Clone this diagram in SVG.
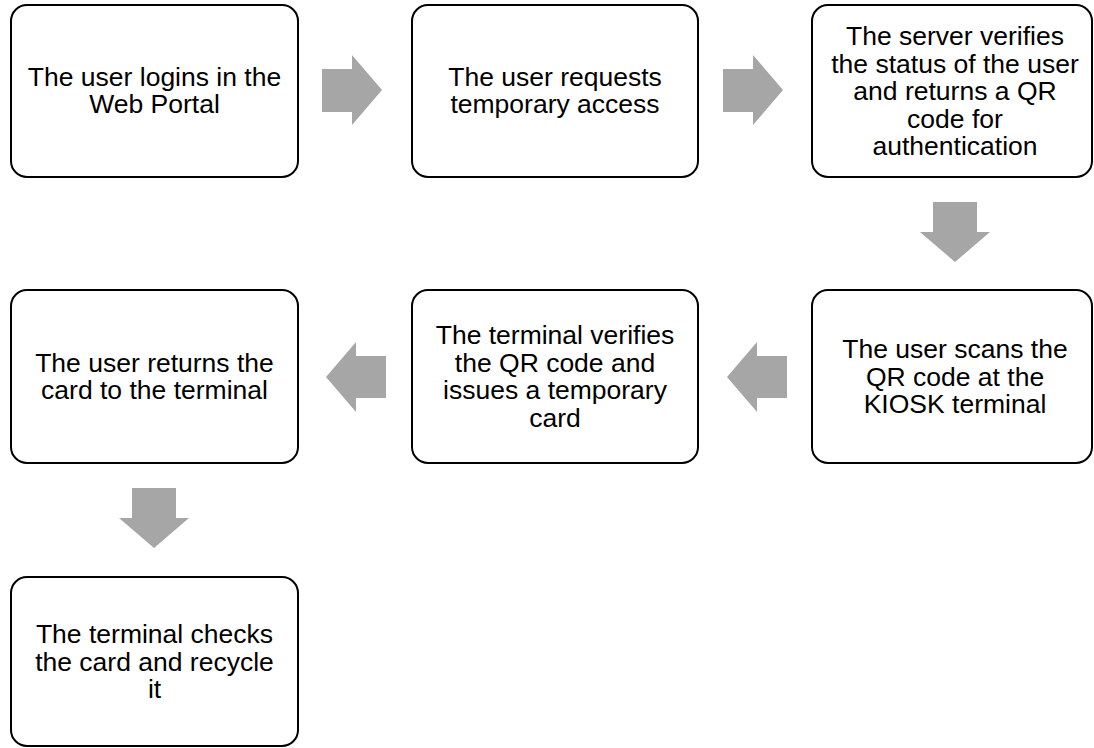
<svg xmlns="http://www.w3.org/2000/svg" width="1094" height="748" viewBox="0 0 1094 748">
<style>
.box{fill:#fff;stroke:#000;stroke-width:2}
.t{font-family:"Liberation Sans",Arial,sans-serif;font-size:26.5px;fill:#000;text-anchor:middle}
.arr{fill:#a6a6a6}
</style>
<rect width="1094" height="748" fill="#fff"/>
<g id="connectors">
<polygon class="arr" points="322,69 352,69 352,55 382,90 352,125 352,112 322,112"/>
<polygon class="arr" points="723,69 753,69 753,55 783,90 753,125 753,112 723,112"/>
<polygon class="arr" points="933,202 977,202 977,232 990,232 955,262 920,232 933,232"/>
<polygon class="arr" points="727,377 757,342 757,356 787,356 787,398 757,398 757,412"/>
<polygon class="arr" points="326,377 356,342 356,356 386,356 386,398 356,398 356,412"/>
<polygon class="arr" points="132,488 176,488 176,518 189,518 154,548 119,518 132,518"/>
</g>
<g id="n1">
<rect class="box" x="11" y="5" width="287" height="172" rx="16"/>
<text class="t"><tspan x="154.5" y="85.5">The user logins in the</tspan><tspan x="154.5" y="113">Web Portal</tspan></text>
</g>
<g id="n2">
<rect class="box" x="412" y="5" width="286" height="172" rx="16"/>
<text class="t"><tspan x="555" y="85.5">The user requests</tspan><tspan x="555" y="113">temporary access</tspan></text>
</g>
<g id="n3">
<rect class="box" x="812" y="5" width="280" height="172" rx="16"/>
<text class="t"><tspan x="955" y="45">The server verifies</tspan><tspan x="955" y="72.5">the status of the user</tspan><tspan x="955" y="100">and returns a QR</tspan><tspan x="955" y="127.5">code for</tspan><tspan x="955" y="155">authentication</tspan></text>
</g>
<g id="n4">
<rect class="box" x="812" y="290" width="280" height="173" rx="16"/>
<text class="t"><tspan x="955" y="358">The user scans the</tspan><tspan x="955" y="385.5">QR code at the</tspan><tspan x="955" y="413">KIOSK terminal</tspan></text>
</g>
<g id="n5">
<rect class="box" x="412" y="290" width="286" height="173" rx="16"/>
<text class="t"><tspan x="555" y="344">The terminal verifies</tspan><tspan x="555" y="371.5">the QR code and</tspan><tspan x="555" y="399">issues a temporary</tspan><tspan x="555" y="426.5">card</tspan></text>
</g>
<g id="n6">
<rect class="box" x="11" y="290" width="287" height="173" rx="16"/>
<text class="t"><tspan x="154.5" y="371.5">The user returns the</tspan><tspan x="154.5" y="399">card to the terminal</tspan></text>
</g>
<g id="n7">
<rect class="box" x="11" y="577" width="287" height="169" rx="16"/>
<text class="t"><tspan x="154.5" y="643">The terminal checks</tspan><tspan x="154.5" y="670.5">the card and recycle</tspan><tspan x="154.5" y="698">it</tspan></text>
</g>
</svg>
